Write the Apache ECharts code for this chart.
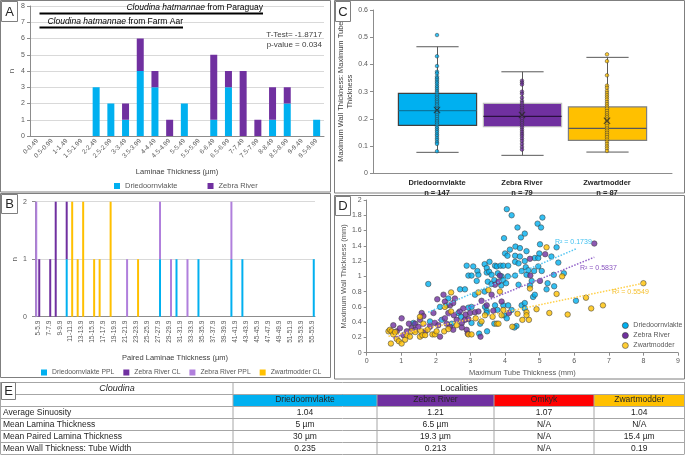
<!DOCTYPE html>
<html>
<head>
<meta charset="utf-8">
<script src="https://cdn.jsdelivr.net/npm/echarts@6/dist/echarts.min.js"></script>
<style>
  html, body { margin: 0; padding: 0; background: #fff; }
  #chart { width: 685px; height: 456px; }
</style>
</head>
<body>
<div id="chart"></div>
<script>
// ---- data ----
const lamCats = ['0-0.49', '0.5-0.99', '1-1.49', '1.5-1.99', '2-2.49', '2.5-2.99', '3-3.49', '3.5-3.99', '4-4.49', '4.5-4.99',
  '5-5.49', '5.5-5.99', '6-6.49', '6.5-6.99', '7-7.49', '7.5-7.99', '8-8.49', '8.5-8.99', '9-9.49', '9.5-9.99']
const lamDried = [0, 0, 0, 0, 3, 2, 1, 4, 3, 0, 2, 0, 1, 3, 0, 0, 1, 2, 0, 1]
const lamZebra = [0, 0, 0, 0, 0, 0, 1, 2, 1, 1, 0, 0, 4, 1, 4, 1, 2, 1, 0, 0]

const pairedCats = ['5-5.9', '6-6.9', '7-7.9', '8-8.9', '9-9.9', '10-10.9', '11-11.9', '12-12.9', '13-13.9', '14-14.9',
  '15-15.9', '16-16.9', '17-17.9', '18-18.9', '19-19.9', '20-20.9', '21-21.9', '22-22.9', '23-23.9', '24-24.9',
  '25-25.9', '26-26.9', '27-27.9', '28-28.9', '29-29.9', '30-30.9', '31-31.9', '32-32.9', '33-33.9', '34-34.9',
  '35-35.9', '36-36.9', '37-37.9', '38-38.9', '39-39.9', '40-40.9', '41-41.9', '42-42.9', '43-43.9', '44-44.9',
  '45-45.9', '46-46.9', '47-47.9', '48-48.9', '49-49.9', '50-50.9', '51-51.9', '52-52.9', '53-53.9', '54-54.9', '55-55.9']
//                   5              10             15             20             25             30             35             40             45             50    55
const pairedDriedPPL = [0,0,0,0,0, 1,0,0,0,0, 0,0,0,0,0, 0,0,0,0,0, 0,0,1,0,0, 1,0,0,0,1, 0,0,0,0,0, 1,0,1,0,0, 0,0,0,0,0, 0,0,0,0,0, 1]
const pairedZebraCL =  [1,0,1,2,0, 1,0,0,0,0, 0,0,0,0,0, 0,0,0,0,0, 0,0,0,0,0, 0,0,0,0,0, 0,0,0,0,0, 0,0,0,0,0, 0,0,0,0,0, 0,0,0,0,0, 0]
const pairedZebraPPL = [0,0,0,0,0, 0,0,0,0,0, 0,0,0,0,0, 0,1,0,0,0, 0,0,1,0,1, 0,0,1,0,0, 0,0,0,0,0, 1,0,0,0,0, 0,0,0,0,0, 0,0,0,0,0, 0]
const pairedZebraPPLside = [2,0,0,0,0, 0,0,0,0,0, 0,0,0,0,0, 0,0,0,0,0, 0,0,0,0,0, 0,0,0,0,0, 0,0,0,0,0, 0,0,0,0,0, 0,0,0,0,0, 0,0,0,0,0, 0]
const pairedZwartCL =  [0,0,0,0,0, 0,2,1,2,0, 1,1,0,2,0, 0,0,0,1,0, 0,0,0,0,0, 0,0,0,0,0, 0,0,0,0,0, 0,0,0,0,0, 0,0,0,0,0, 0,0,0,0,0, 0]

const boxNames = ['Driedoornvlakte', 'Zebra River', 'Zwartmodder']
const boxCounts = [147, 79, 87]
// [min whisker, Q1, median, Q3, max whisker]
const boxStats = [
  [0.077, 0.176, 0.230, 0.294, 0.465],
  [0.066, 0.171, 0.209, 0.257, 0.373],
  [0.078, 0.121, 0.165, 0.244, 0.426]
]
const boxMeans = [0.233, 0.214, 0.193]
const ratioDried = [0.508, 0.43, 0.394, 0.373, 0.367, 0.355, 0.349, 0.343, 0.336, 0.33, 0.322, 0.316, 0.309, 0.302, 0.296,
  0.288, 0.281, 0.275, 0.268, 0.262, 0.255, 0.249, 0.241, 0.236, 0.228, 0.221, 0.214, 0.207, 0.199, 0.192, 0.186, 0.179,
  0.171, 0.165, 0.158, 0.151, 0.143, 0.137, 0.129, 0.122, 0.114, 0.108, 0.081]
const ratioZebra = [0.34, 0.333, 0.326, 0.3, 0.292, 0.278, 0.266, 0.258, 0.249, 0.241, 0.233, 0.226, 0.219, 0.212, 0.205,
  0.199, 0.191, 0.184, 0.176, 0.168, 0.16, 0.152, 0.144, 0.137, 0.128, 0.119, 0.108, 0.097, 0.087]
const ratioZwart = [0.437, 0.412, 0.36, 0.322, 0.314, 0.303, 0.295, 0.287, 0.279, 0.271, 0.262, 0.254, 0.246, 0.238, 0.229,
  0.221, 0.213, 0.206, 0.198, 0.19, 0.182, 0.174, 0.165, 0.157, 0.149, 0.141, 0.133, 0.124, 0.116, 0.108, 0.099, 0.091, 0.082]

// [tube thickness mm, wall thickness mm]
const tubeWallDried = [[1.78,0.90],[1.35,0.39],[1.83,0.41],[2.17,0.43],[2.12,0.60],[2.31,0.62],[2.36,0.71],[2.46,0.38],[2.65,0.52],
  [2.73,0.47],[2.70,0.83],[2.84,0.83],[2.89,1.14],[2.94,1.01],[3.03,1.01],[3.08,1.13],[2.94,0.59],[3.03,0.60],[3.03,0.39],
  [3.13,0.76],[3.18,0.94],[3.20,1.07],[3.23,1.02],[3.25,0.25],[3.28,0.38],[3.41,1.16],[3.47,1.11],[3.41,0.80],[3.42,0.60],
  [3.47,0.55],[3.47,0.52],[3.47,1.05],[3.48,0.28],[3.50,0.93],[3.54,1.06],[3.55,1.19],[3.61,1.02],[3.61,0.90],[3.69,0.95],
  [3.69,0.38],[3.71,1.14],[3.71,0.62],[3.76,1.13],[3.78,0.56],[3.79,1.04],[3.87,1.14],[3.89,0.88],[3.90,1.00],[3.95,1.14],
  [3.95,0.95],[3.95,0.62],[3.97,0.49],[3.97,1.50],[4.0,1.30],[4.03,0.91],[4.05,1.88],[4.05,0.45],[4.07,1.27],[4.08,1.00],
  [4.09,1.14],[4.09,0.62],[4.14,1.35],[4.19,1.80],[4.19,0.56],[4.29,1.27],[4.29,1.19],[4.29,1.01],[4.30,1.39],[4.33,0.35],
  [4.36,1.64],[4.39,1.17],[4.39,0.89],[4.43,1.37],[4.43,1.26],[4.46,1.51],[4.48,1.07],[4.48,0.62],[4.57,1.56],[4.57,1.20],
  [4.57,0.65],[4.57,0.58],[4.60,1.12],[4.62,1.33],[4.62,1.02],[4.67,1.08],[4.72,0.88],[4.77,0.94],[4.81,0.73],[4.84,1.07],
  [4.86,1.24],[4.86,0.76],[4.94,1.69],[4.96,1.24],[4.96,1.13],[4.99,1.30],[5.01,1.42],[5.04,1.64],[5.06,1.07],[5.08,1.77],
  [5.20,0.83],[5.23,0.91],[5.34,1.26],[5.41,1.02],[5.42,0.87],[5.49,1.38],[5.54,1.18],[5.70,1.04],[6.05,0.68],[4.27,0.33]]
const tubeWallZebra = [[0.77,0.36],[0.87,0.28],[0.96,0.32],[1.01,0.45],[1.06,0.23],[1.16,0.28],[1.22,0.38],[1.30,0.32],
  [1.40,0.38],[1.40,0.30],[1.49,0.34],[1.54,0.43],[1.59,0.52],[1.64,0.48],[1.69,0.28],[1.83,0.34],[1.93,0.52],[1.97,0.39],
  [2.04,0.70],[2.07,0.36],[2.12,0.21],[2.22,0.76],[2.26,0.67],[2.26,0.45],[2.31,0.38],[2.36,0.52],[2.41,0.62],[2.41,0.34],
  [2.50,0.65],[2.50,0.30],[2.52,0.49],[2.55,0.71],[2.60,0.43],[2.69,0.54],[2.75,0.39],[2.75,0.33],[2.79,0.58],[2.84,0.43],
  [2.86,0.50],[2.89,0.30],[2.92,0.25],[2.94,0.44],[2.99,0.52],[3.13,0.53],[3.23,0.54],[3.29,0.21],[3.32,0.68],[3.47,0.62],
  [3.61,0.76],[3.66,0.55],[3.71,0.89],[3.81,0.93],[3.85,1.01],[3.90,0.67],[4.11,0.52],[4.72,1.23],[4.73,1.01],[5.01,0.94],
  [5.16,1.29],[6.58,1.43]]
const tubeWallZwart = [[0.63,0.28],[0.67,0.30],[0.72,0.28],[0.77,0.24],[0.82,0.27],[0.70,0.12],[0.87,0.18],[0.93,0.15],
  [1.01,0.12],[1.11,0.17],[1.16,0.23],[1.25,0.21],[1.30,0.28],[1.40,0.27],[1.54,0.47],[1.54,0.21],[1.57,0.28],[1.61,0.23],
  [1.64,0.38],[1.69,0.23],[1.76,0.30],[1.90,0.24],[1.97,0.24],[2.02,0.28],[2.24,0.28],[2.26,0.60],[2.36,0.31],[2.44,0.79],
  [2.44,0.54],[2.60,0.36],[2.94,0.24],[3.03,0.24],[3.15,0.45],[3.23,0.79],[3.32,0.41],[3.42,0.49],[3.52,0.82],[3.64,0.47],
  [3.76,0.38],[3.81,0.38],[3.85,0.80],[3.90,0.49],[3.95,0.56],[4.21,0.34],[4.36,0.51],[4.50,0.43],[4.62,0.53],[4.62,0.49],
  [4.69,0.43],[4.72,0.84],[4.91,0.57],[5.20,1.38],[5.28,0.52],[5.49,0.77],[5.65,1.00],[5.81,0.50],[6.34,0.72],[6.49,0.58],
  [6.83,0.62],[8.00,0.91]]
// linear trendline end points [x, y]
const trendDried = [[1.78, 0.53], [6.05, 1.36]]
const trendZebra = [[0.77, 0.19], [6.58, 1.25]]
const trendZwart = [[0.63, 0.215], [8.0, 0.91]]
const r2Labels = ['R² = 0.1739', 'R² = 0.5837', 'R² = 0.5549']

const tableLocalities = ['Driedoornvlakte', 'Zebra River', 'Omkyk', 'Zwartmodder']
const tableRowNames = ['Average Sinuosity', 'Mean Lamina Thickness', 'Mean Paired Lamina Thickness', 'Mean Wall Thickness: Tube Width']
const avgSinuosity = ['1.04', '1.21', '1.07', '1.04']
const meanLamina = ['5 µm', '6.5 µm', 'N/A', 'N/A']
const meanPaired = ['30 µm', '19.3 µm', 'N/A', '15.4 µm']
const meanWallRatio = ['0.235', '0.213', 'N/A', '0.19']

// ---- style ----
const FONT = "'Liberation Sans', Arial, sans-serif"
const BLUE = '#00B0F0'
const PURPLE = '#7030A0'
const LPURPLE = '#B07FDC'
const YELLOW = '#FFC000'
const RED = '#FF0000'
const AXIS = '#8c8c8c'
const LABEL = '#595959'
const GRID = '#d9d9d9'
const PANEL = '#7f7f7f'

const lbl = (size) => ({ color: LABEL, fontSize: size, fontFamily: FONT })
const axLine = { lineStyle: { color: AXIS, width: 1 } }

const chart = echarts.init(document.getElementById('chart'))

// ---- graphic helpers (panel frames, labels, annotations, table) ----
const g = []
const rect = (x, y, w, h, fill, stroke, lw) => g.push({
  type: 'rect', silent: true, shape: { x, y, width: w, height: h },
  style: { fill: fill || 'transparent', stroke: stroke || null, lineWidth: lw || 1 }
})
const line = (x1, y1, x2, y2, stroke, lw) => g.push({
  type: 'line', silent: true, shape: { x1, y1, x2, y2 }, style: { stroke, lineWidth: lw || 1 }
})
const text = (x, y, t, opt) => g.push({
  type: 'text', silent: true, x, y, z: 10,
  style: Object.assign({ text: t, fontFamily: FONT, fontSize: 8, fill: '#262626', align: 'left', verticalAlign: 'middle' }, opt || {})
})

// panel frames
rect(0.5, 0.5, 330, 191.5, null, PANEL)
rect(0.5, 193.5, 330, 184, null, PANEL)
rect(334.5, 0.5, 350, 192.5, null, PANEL)
rect(334.5, 195.5, 350, 183.5, null, PANEL)

// panel letters
const letter = (x, y, w, h, t) => {
  rect(x, y, w, h, '#fff', PANEL)
  text(x + w / 2, y + h / 2 + 0.5, t, { fontSize: 13, align: 'center', fill: '#262626' })
}
letter(1.5, 1.5, 16, 20, 'A')
letter(1.5, 194.5, 16, 19, 'B')
letter(335.5, 1.5, 15, 20, 'C')
letter(335.5, 196.5, 15, 19, 'D')

// panel A annotations
line(39.5, 13.5, 263, 13.5, '#000', 2)
text(263, 7.5, '{i|Cloudina hatmannae} from Paraguay', {
  align: 'right', fontSize: 8.5, fill: '#000', rich: { i: { fontStyle: 'italic', fontSize: 8.5, fontFamily: FONT } }
})
line(39.5, 27.5, 183, 27.5, '#000', 2)
text(183, 21.5, '{i|Cloudina hatmannae} from Farm Aar', {
  align: 'right', fontSize: 8.5, fill: '#000', rich: { i: { fontStyle: 'italic', fontSize: 8.5, fontFamily: FONT } }
})
text(322, 34.5, 'T-Test= -1.8717', { align: 'right', fontSize: 8, fill: '#404040' })
text(322, 45, 'p-value = 0.034', { align: 'right', fontSize: 8, fill: '#404040' })

// panel D R² labels
text(555, 242, r2Labels[0], { fontSize: 7, fill: '#3FC0F0' })
text(580, 268, r2Labels[1], { fontSize: 7, fill: '#8A55C0' })
text(612, 292, r2Labels[2], { fontSize: 7, fill: '#F5C030' })

// table E
const colX = [0.5, 233, 377, 494, 594, 684.5]
const rowY = [382, 394, 406, 418, 430, 442, 454]
const TB = '#a6a6a6'
const headFills = [BLUE, PURPLE, RED, YELLOW]
tableLocalities.forEach((name, i) => {
  rect(colX[i + 1], rowY[1], colX[i + 2] - colX[i + 1], rowY[2] - rowY[1], headFills[i], null)
  text((colX[i + 1] + colX[i + 2]) / 2, (rowY[1] + rowY[2]) / 2, name, { align: 'center', fontSize: 8.5, fill: '#262626' })
})
rowY.forEach((y) => line(colX[0], y + 0.5, colX[5], y + 0.5, TB, 1))
colX.forEach((x, i) => line(x, (i === 0 || i === 1 || i === 5) ? rowY[0] : rowY[1], x, rowY[6], TB, 1))
text(117, 388.5, 'Cloudina', { align: 'center', fontSize: 9, fontStyle: 'italic', fill: '#262626' })
text(459, 388.5, 'Localities', { align: 'center', fontSize: 9, fill: '#262626' })
const tableVals = [avgSinuosity, meanLamina, meanPaired, meanWallRatio]
tableRowNames.forEach((name, r) => {
  const cy = (rowY[r + 2] + rowY[r + 3]) / 2 + 0.5
  text(3, cy, name, { fontSize: 8.5, fill: '#262626' })
  tableVals[r].forEach((v, c) => {
    text((colX[c + 1] + colX[c + 2]) / 2, cy, v, { align: 'center', fontSize: 8.5, fill: '#262626' })
  })
})
letter(1.5, 382.5, 14, 17, 'E')

// ---- box plot renderer for panel C ----
const boxFills = [BLUE, PURPLE, YELLOW]
const boxMedian = ['#0a77a0', '#2b1040', '#595959']
const boxBorder = ['#404040', '#bfbfbf', '#7f7f7f']
const renderBox = (params, api) => {
  const i = api.value(0)
  const lo = api.coord([i, api.value(1)])
  const q1 = api.coord([i, api.value(2)])
  const md = api.coord([i, api.value(3)])
  const q3 = api.coord([i, api.value(4)])
  const hi = api.coord([i, api.value(5)])
  const bw = api.size([1, 0])[0] * 0.92
  const cap = bw * 0.54
  const x = Math.round(lo[0]) + 0.5
  const wl = { stroke: '#595959', lineWidth: 1 }
  return {
    type: 'group',
    children: [
      { type: 'line', shape: { x1: x, y1: hi[1], x2: x, y2: q3[1] }, style: wl },
      { type: 'line', shape: { x1: x, y1: q1[1], x2: x, y2: lo[1] }, style: wl },
      { type: 'line', shape: { x1: x - cap / 2, y1: hi[1], x2: x + cap / 2, y2: hi[1] }, style: wl },
      { type: 'line', shape: { x1: x - cap / 2, y1: lo[1], x2: x + cap / 2, y2: lo[1] }, style: wl },
      { type: 'rect', shape: { x: x - bw / 2, y: q3[1], width: bw, height: q1[1] - q3[1] },
        style: { fill: boxFills[i], stroke: boxBorder[i], lineWidth: 1.2 } },
      { type: 'line', shape: { x1: x - bw / 2, y1: md[1], x2: x + bw / 2, y2: md[1] },
        style: { stroke: boxMedian[i], lineWidth: 1.2 } }
    ]
  }
}
const ptSeries = (vals, idx, color) => ({
  type: 'scatter', xAxisIndex: 3, yAxisIndex: 3, z: 3,
  data: vals.map(v => [idx, v]),
  symbol: 'circle', symbolSize: 3.6,
  itemStyle: { color, borderColor: '#333', borderWidth: 0.6 }
})
const dotStyle = (color) => ({ color, borderColor: '#404040', borderWidth: 0.7 })
const trend = (name, pts, color) => ({
  name, type: 'line', xAxisIndex: 4, yAxisIndex: 4, data: pts, symbol: 'none', z: 4,
  lineStyle: { color, width: 1.5, type: [1.5, 1.5] }
})

const legendText = (size) => ({ color: LABEL, fontSize: size, fontFamily: FONT })

const option = {
  animation: false,
  backgroundColor: '#fff',
  textStyle: { fontFamily: FONT },
  graphic: g,
  legend: [
    {
      data: ['Driedoornvlakte', 'Zebra River'], left: 109, top: 177, icon: 'rect',
      itemWidth: 6, itemHeight: 6, itemGap: 30, textStyle: legendText(7.5), selectedMode: false
    },
    {
      data: ['Driedoornvlakte PPL', 'Zebra River CL', 'Zebra River PPL', 'Zwartmodder CL'], left: 36, top: 364,
      icon: 'rect', itemWidth: 6, itemHeight: 6, itemGap: 9, itemTextGap: 3, textStyle: legendText(6.8), selectedMode: false
    },
    {
      data: ['Driedoornvlakte', 'Zebra River', 'Zwartmodder'].map(name => ({
        name, icon: 'circle', itemStyle: { borderColor: '#404040', borderWidth: 0.7 }
      })),
      orient: 'vertical', left: 617, top: 317, itemWidth: 6, itemHeight: 6, itemGap: 3, itemTextGap: 3,
      textStyle: legendText(7), selectedMode: false
    }
  ],
  grid: [
    { left: 30, top: 6, width: 294, height: 130 },
    { left: 35, top: 201.7, width: 280, height: 115 },
    { left: 373, top: 10, width: 299, height: 163.3 },
    { left: 394.5, top: 10, width: 255, height: 163.3 },
    { left: 366.7, top: 200, width: 311.3, height: 152.7 }
  ],
  xAxis: [
    {
      type: 'category', gridIndex: 0, data: lamCats,
      name: 'Laminae Thickness (µm)', nameLocation: 'middle', nameGap: 32,
      nameTextStyle: { color: '#404040', fontSize: 7.5, fontFamily: FONT },
      axisLine: axLine, axisTick: { lineStyle: { color: AXIS }, length: 3 },
      axisLabel: Object.assign(lbl(6.5), { rotate: 45, interval: 0, margin: 4 })
    },
    {
      type: 'category', gridIndex: 1, data: pairedCats,
      name: 'Paired Laminae Thickness (µm)', nameLocation: 'middle', nameGap: 37,
      nameTextStyle: { color: '#404040', fontSize: 7.5, fontFamily: FONT },
      axisLine: axLine, axisTick: { lineStyle: { color: AXIS }, length: 3, interval: 0 },
      axisLabel: Object.assign(lbl(6.5), { rotate: 90, interval: 1, margin: 4 })
    },
    {
      type: 'category', gridIndex: 2, data: [''],
      axisLine: axLine, axisTick: { show: false }, axisLabel: { show: false }
    },
    {
      type: 'category', gridIndex: 3, data: boxNames,
      axisLine: { show: false }, axisTick: { show: false },
      axisLabel: {
        interval: 0, margin: 5, lineHeight: 10,
        formatter: (v, i) => `{b|${v}}\n{b|n = ${boxCounts[i]}}`,
        rich: { b: { fontWeight: 'bold', fontSize: 7.5, color: '#262626', fontFamily: FONT, lineHeight: 10 } }
      }
    },
    {
      type: 'value', gridIndex: 4, min: 0, max: 9, interval: 1,
      name: 'Maximum Tube Thickness (mm)', nameLocation: 'middle', nameGap: 16,
      nameTextStyle: { color: LABEL, fontSize: 7.5, fontFamily: FONT },
      axisLine: axLine, axisTick: { lineStyle: { color: AXIS }, length: 3 },
      splitLine: { show: false }, axisLabel: Object.assign(lbl(7), { margin: 5 })
    }
  ],
  yAxis: [
    {
      type: 'value', gridIndex: 0, min: 0, max: 8, interval: 1,
      name: 'n', nameLocation: 'middle', nameGap: 14,
      nameTextStyle: { color: LABEL, fontSize: 8, fontFamily: FONT },
      axisLine: { show: true, lineStyle: { color: AXIS } }, axisTick: { show: true, length: 3, lineStyle: { color: AXIS } },
      splitLine: { lineStyle: { color: GRID } }, axisLabel: Object.assign(lbl(7), { margin: 5 })
    },
    {
      type: 'value', gridIndex: 1, min: 0, max: 2, interval: 1,
      name: 'n', nameLocation: 'middle', nameGap: 14,
      nameTextStyle: { color: LABEL, fontSize: 8, fontFamily: FONT },
      axisLine: { show: true, lineStyle: { color: AXIS } }, axisTick: { show: true, length: 3, lineStyle: { color: AXIS } },
      splitLine: { lineStyle: { color: GRID } }, axisLabel: Object.assign(lbl(7), { margin: 8 })
    },
    {
      type: 'value', gridIndex: 2, min: 0, max: 0.6, interval: 0.1,
      name: 'Maximum Wall Thickness: Maximum Tube\nThickness', nameLocation: 'middle', nameGap: 18,
      nameTextStyle: { color: '#404040', fontSize: 7.5, fontFamily: FONT, lineHeight: 9 },
      axisLine: { show: true, lineStyle: { color: AXIS } }, axisTick: { show: true, length: 3, lineStyle: { color: AXIS } },
      splitLine: { show: false }, axisLabel: Object.assign(lbl(7), { margin: 5 })
    },
    {
      type: 'value', gridIndex: 3, min: 0, max: 0.6, interval: 0.1,
      axisLine: { show: false }, axisTick: { show: false }, axisLabel: { show: false }, splitLine: { show: false }
    },
    {
      type: 'value', gridIndex: 4, min: 0, max: 2, interval: 0.2,
      name: 'Maximum Wall Thickness (mm)', nameLocation: 'middle', nameGap: 16,
      nameTextStyle: { color: LABEL, fontSize: 7.5, fontFamily: FONT },
      axisLine: { show: true, lineStyle: { color: AXIS } }, axisTick: { show: true, length: 3, lineStyle: { color: AXIS } },
      splitLine: { show: false }, axisLabel: Object.assign(lbl(7), { margin: 5 })
    }
  ],
  series: [
    // A
    { name: 'Driedoornvlakte', type: 'bar', xAxisIndex: 0, yAxisIndex: 0, stack: 'lam', barWidth: 7,
      data: lamDried, itemStyle: { color: BLUE } },
    { name: 'Zebra River', type: 'bar', xAxisIndex: 0, yAxisIndex: 0, stack: 'lam', barWidth: 7,
      data: lamZebra, itemStyle: { color: PURPLE } },
    // B
    { name: 'Zebra River PPL', type: 'bar', xAxisIndex: 1, yAxisIndex: 1, stack: 'side', barWidth: 2, barGap: '50%',
      data: pairedZebraPPLside, itemStyle: { color: LPURPLE } },
    { name: 'Driedoornvlakte PPL', type: 'bar', xAxisIndex: 1, yAxisIndex: 1, stack: 'pair', barWidth: 2, barGap: '50%',
      data: pairedDriedPPL, itemStyle: { color: BLUE } },
    { name: 'Zebra River CL', type: 'bar', xAxisIndex: 1, yAxisIndex: 1, stack: 'pair', barWidth: 2, barGap: '50%',
      data: pairedZebraCL, itemStyle: { color: PURPLE } },
    { name: 'Zebra River PPL', type: 'bar', xAxisIndex: 1, yAxisIndex: 1, stack: 'pair', barWidth: 2, barGap: '50%',
      data: pairedZebraPPL, itemStyle: { color: LPURPLE } },
    { name: 'Zwartmodder CL', type: 'bar', xAxisIndex: 1, yAxisIndex: 1, stack: 'pair', barWidth: 2, barGap: '50%',
      data: pairedZwartCL, itemStyle: { color: YELLOW } },
    // C
    { type: 'custom', xAxisIndex: 3, yAxisIndex: 3, renderItem: renderBox, z: 2,
      encode: { x: 0, y: [1, 2, 3, 4, 5] },
      data: boxStats.map((s, i) => [i, ...s]) },
    ptSeries(ratioDried, 0, BLUE),
    ptSeries(ratioZebra, 1, PURPLE),
    ptSeries(ratioZwart, 2, YELLOW),
    { type: 'scatter', xAxisIndex: 3, yAxisIndex: 3, z: 4,
      data: boxMeans.map((m, i) => [i, m]),
      symbol: 'path://M0,1L1,0L5,4L9,0L10,1L6,5L10,9L9,10L5,6L1,10L0,9L4,5Z', symbolSize: 7,
      itemStyle: { color: '#262626' } },
    // D
    { name: 'Driedoornvlakte', type: 'scatter', xAxisIndex: 4, yAxisIndex: 4, data: tubeWallDried,
      symbolSize: 5.5, itemStyle: dotStyle(BLUE) },
    { name: 'Zebra River', type: 'scatter', xAxisIndex: 4, yAxisIndex: 4, data: tubeWallZebra,
      symbolSize: 5.5, itemStyle: dotStyle(PURPLE) },
    { name: 'Zwartmodder', type: 'scatter', xAxisIndex: 4, yAxisIndex: 4, data: tubeWallZwart,
      symbolSize: 5.5, itemStyle: dotStyle(YELLOW) },
    trend('trendDried', trendDried, '#55C6F2'),
    trend('trendZebra', trendZebra, '#9060C8'),
    trend('trendZwart', trendZwart, '#FFD04A')
  ]
}

chart.setOption(option)
window.addEventListener('resize', () => chart.resize())
</script>
</body>
</html>
